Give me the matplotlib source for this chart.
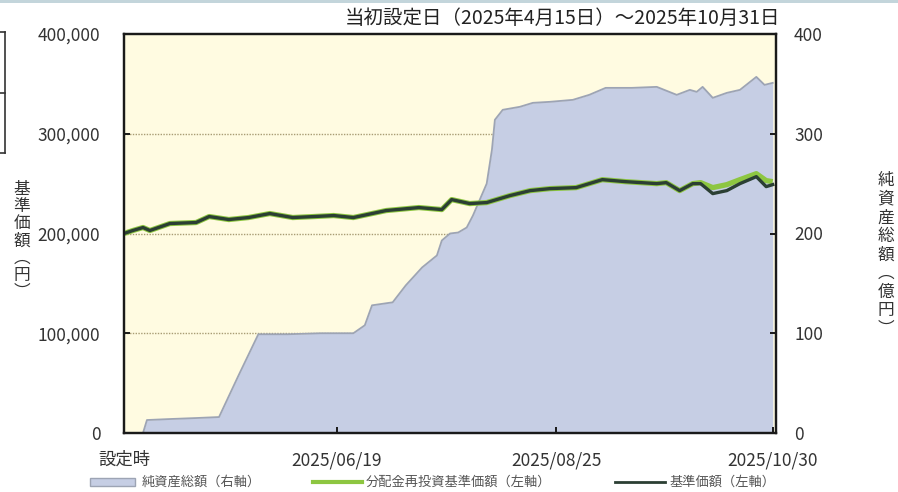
import matplotlib
matplotlib.use('Agg')
import matplotlib.pyplot as plt
from matplotlib.lines import Line2D
from matplotlib.patches import Rectangle
from matplotlib.ticker import FuncFormatter

plt.rcParams['font.family'] = ['Noto Sans CJK JP', 'DejaVu Sans']

# days counted from 2025-04-15 (設定日)
TITLE = '当初設定日（2025年4月15日）～2025年10月31日'
XTICK_DAYS = [0, 65, 132, 198]
XTICK_LABELS = ['設定時', '2025/06/19', '2025/08/25', '2025/10/30']

# 純資産総額 (億円, right axis)
aum_days = [0, 5.8, 7, 14, 22, 29, 35, 41, 50, 60, 70, 73.5, 75.7, 82, 86, 91,
            95.5, 97, 99.5, 102, 104.6, 106.5, 108.6, 110.7, 112.3, 113.2, 115.6,
            120.8, 124.8, 130, 137, 142, 147, 155, 162.6, 168.7, 172.7, 174.8,
            176.6, 179.7, 184, 188, 193, 195.5, 198]
aum = [0, 0, 13, 14, 15, 16, 58, 99, 99, 100, 100, 108, 128, 131, 148, 166,
       178, 193, 200, 201, 206, 218, 234, 250, 284, 314, 324,
       327, 331, 332, 334, 339, 346, 346, 347, 339, 344, 342,
       347, 336, 341, 344, 357, 349, 351]

# 基準価額 / 分配金再投資基準価額 (円, left axis)
nav_days = [0, 2.7, 5.8, 7.9, 14, 22, 26, 32, 38, 44.5, 51.5, 58, 64, 70, 80,
            90, 97, 100, 105.5, 110.7, 117.8, 124, 130, 138, 146, 153, 162.6,
            165.5, 169.6, 173.6, 176, 179.7, 184, 188, 193, 196, 198]
nav = [200000, 203000, 206000, 203000, 210000, 211000, 217000, 214000, 216000,
       220000, 216000, 217000, 218000, 216000, 223000, 226000, 224000, 234000,
       230000, 231000, 238000, 243000, 245000, 246000, 254000, 252000, 250000,
       251000, 243000, 250000, 250000, 240000, 243000, 250000, 257000, 247000,
       249000]
nav_reinv = [200000, 203000, 206000, 203000, 210000, 211000, 217000, 214000,
             216000, 220000, 216000, 217000, 218000, 216000, 223000, 226000,
             224000, 234000, 230000, 231000, 238000, 243000, 245000, 246000,
             254000, 252000, 250000, 251000, 243000, 250000, 251000, 246000,
             249000, 254000, 260000, 253000, 252000]

YELLOW = '#fffbe1'
AREA = '#c6cee4'
AREA_EDGE = '#9da4b4'
GREEN = '#8dc641'
DARK = '#2b3f33'
TXT = '#333333'

fig = plt.figure(figsize=(8.98, 4.92), dpi=100)
ax2 = fig.add_axes([124 / 898, 1 - 433 / 492, 652 / 898, 399 / 492])
ax = ax2.twinx()

# right axis holds the area and the background
ax2.set_facecolor(YELLOW)
for yv in [100, 200, 300]:
    ax2.axhline(yv, color='#a89c74', lw=1.0, ls=(0, (1, 1)), zorder=0.5)
ax2.fill_between(aum_days, aum, 0, color=AREA, lw=0, zorder=1)
ax2.plot(aum_days, aum, color=AREA_EDGE, lw=1.3, zorder=1.5)
ax2.set_ylim(0, 400)
ax2.set_xlim(0, 199)

ax.set_zorder(ax2.get_zorder() + 1)
ax.patch.set_visible(False)
ax.plot(nav_days, nav_reinv, color=GREEN, lw=3.8, solid_capstyle='butt')
ax.plot(nav_days, nav, color=DARK, lw=2.4)
ax.set_ylim(0, 400000)

# left/right swap: lines use left labels, area uses right labels
ax.yaxis.tick_left()
ax.yaxis.set_label_position('left')
ax2.yaxis.tick_right()
ax.set_yticks([0, 100000, 200000, 300000, 400000])
ax.yaxis.set_major_formatter(FuncFormatter(lambda v, p: f'{int(v):,}'))
ax2.set_yticks([0, 100, 200, 300, 400])

ax2.set_xticks(XTICK_DAYS)
ax2.set_xticklabels(XTICK_LABELS)

for a in (ax, ax2):
    for s in a.spines.values():
        s.set_linewidth(1.6)
        s.set_color('#1a1a1a')
    a.tick_params(direction='in', length=4, width=1.4, colors='#1a1a1a',
                  labelcolor=TXT, labelsize=12.5)
ax.tick_params(axis='y', pad=17)
ax2.tick_params(axis='y', pad=13)
ax2.tick_params(axis='x', pad=13)

fig.text(780 / 898, 1 - 18 / 492, TITLE, ha='right', va='center',
         fontsize=14, color='#222222')

# vertical axis titles
vleft = '\n'.join(['基', '準', '価', '額', '︵', '円', '︶'])
vright = '\n'.join(['純', '資', '産', '総', '額', '︵', '億', '円', '︶'])
fig.text(22 / 898, 1 - 241 / 492, vleft, ha='center', va='center',
         fontsize=12, color=TXT, linespacing=1.02)
fig.text(886 / 898, 1 - 255 / 492, vright, ha='center', va='center',
         fontsize=12, color=TXT, linespacing=1.12)

# legend drawn along the bottom
ly = 1 - 482 / 492
fig.add_artist(Rectangle((90 / 898, 1 - 486 / 492), 45 / 898, 8 / 492,
                         transform=fig.transFigure, facecolor=AREA,
                         edgecolor=AREA_EDGE, lw=1))
fig.text(142 / 898, ly, '純資産総額（右軸）', ha='left', va='center',
         fontsize=9.5, color='#555555')
fig.add_artist(Line2D([313 / 898, 362 / 898], [ly, ly], transform=fig.transFigure,
                      color=GREEN, lw=3))
fig.text(366 / 898, ly, '分配金再投資基準価額（左軸）', ha='left', va='center',
         fontsize=9.5, color='#555555')
fig.add_artist(Line2D([615 / 898, 665 / 898], [ly, ly], transform=fig.transFigure,
                      color=DARK, lw=2))
fig.text(669 / 898, ly, '基準価額（左軸）', ha='left', va='center',
         fontsize=9.5, color='#555555')

# page fragments visible in the crop
fig.add_artist(Rectangle((0, 1 - 3 / 492), 1, 3 / 492, transform=fig.transFigure,
                         facecolor='#c3d5db', lw=0))
fig.add_artist(Line2D([5 / 898, 5 / 898], [1 - 32 / 492, 1 - 153 / 492],
                      transform=fig.transFigure, color='#333333', lw=1.2))
for yy in [32, 93, 153]:
    fig.add_artist(Line2D([0, 5 / 898], [1 - yy / 492, 1 - yy / 492],
                          transform=fig.transFigure, color='#333333', lw=1.2))

fig.savefig('out.png', dpi=100)
